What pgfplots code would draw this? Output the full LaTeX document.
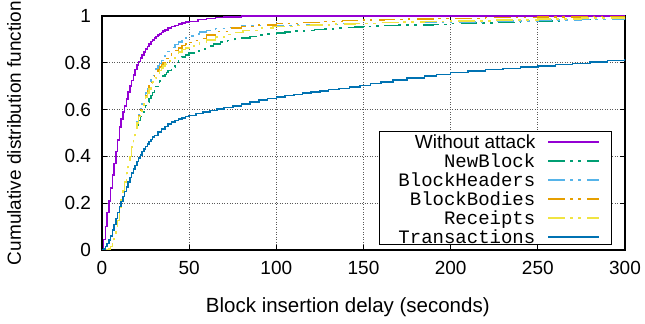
\documentclass[border=0pt]{standalone}
\usepackage{fontspec}
\setmainfont{Liberation Sans}
\setmonofont{Liberation Mono}
\usepackage{pgfplots}
\pgfplotsset{compat=1.18}
\definecolor{cA}{HTML}{9400D3}
\definecolor{cB}{HTML}{009E73}
\definecolor{cC}{HTML}{56B4E9}
\definecolor{cD}{HTML}{E69F00}
\definecolor{cE}{HTML}{F0E442}
\definecolor{cF}{HTML}{0072B2}
\newcommand{\fs}{\fontsize{19bp}{22bp}\selectfont}
\tikzset{ddot/.style={dash pattern=on 17bp off 5bp on 2.5bp off 5.5bp on 2.5bp off 6.5bp}}
\begin{document}
\begin{tikzpicture}
\begin{axis}[name=ax,
  scale only axis, width=523bp, height=234bp,
  xmin=0, xmax=300, ymin=0, ymax=1,
  xtick={0,50,100,150,200,250,300},
  ytick={0,0.2,0.4,0.6,0.8,1},
  /pgf/number format/assume math mode=true,
  tick label style={font=\fs},
  xticklabel style={yshift=-8bp},
  yticklabel style={xshift=-7.5bp},
  tick align=inside, major tick length=5bp,
  tick style={black, line width=0.8bp},
  axis line style={black, line width=1.1bp},
  grid=major,
  major grid style={black!65, line width=0.8bp, dash pattern=on 0.9bp off 1.6bp},
  xlabel={Block insertion delay (seconds)},
  ylabel={Cumulative distribution function},
  xlabel style={font=\fontsize{20.5bp}{23bp}\selectfont, at={(axis description cs:0.47,-0.265)}, anchor=base},
  ylabel style={font=\fs, at={(axis description cs:-0.1549,0.5)}, anchor=base},
  every axis plot/.append style={line width=1.5bp, const plot, line cap=butt},
  legend plot pos=right,
  legend cell align=right,
  legend image code/.code={\draw[#1] (0bp,0bp) -- (51bp,0bp);},
  legend style={draw=none, fill=none, at={(axis description cs:0.9522,0.503)}, anchor=north east,
    inner sep=0pt, column sep=12bp, row sep=0pt,
    nodes={inner sep=0pt, text height=16bp, text depth=3bp, font=\fs}},
]
\addplot[cA] coordinates {(0,0)(1,0.045)(2,0.10)(3,0.16)(4,0.21)(5,0.265)(6,0.32)(7,0.37)(8,0.42)(9,0.47)(10,0.525)(11,0.56)(12,0.59)(13,0.615)(14,0.645)(15,0.675)(16,0.70)(17,0.724)(18,0.748)(19,0.772)(20,0.79)(21,0.805)(22,0.82)(23,0.834)(24,0.847)(25,0.859)(26,0.87)(27,0.88)(28,0.89)(29,0.898)(30,0.905)(31,0.912)(32,0.918)(33,0.924)(34,0.93)(35,0.935)(36,0.94)(38,0.948)(40,0.955)(42,0.96)(44,0.965)(46,0.97)(48,0.974)(50,0.977)(55,0.984)(60,0.99)(65,0.993)(70,0.996)(80,0.999)(100,1)(300,1)};
\addlegendentry{Without attack}
\addplot[cB, ddot] coordinates {(0,0)(3,0)(4,0.005)(5,0.015)(6,0.03)(7,0.048)(8,0.08)(9,0.125)(10,0.175)(11,0.215)(12,0.255)(13,0.29)(14,0.328)(15,0.365)(16,0.40)(17,0.44)(18,0.478)(19,0.513)(20,0.535)(21,0.553)(22,0.57)(23,0.587)(24,0.603)(25,0.618)(26,0.633)(27,0.647)(28,0.66)(29,0.673)(30,0.686)(31,0.699)(32,0.711)(33,0.723)(34,0.733)(35,0.743)(36,0.751)(37,0.759)(38,0.767)(40,0.783)(42,0.798)(44,0.812)(46,0.824)(48,0.834)(50,0.842)(53,0.851)(56,0.86)(60,0.871)(64,0.88)(68,0.888)(72,0.895)(76,0.901)(80,0.906)(85,0.912)(90,0.918)(95,0.923)(100,0.927)(105,0.931)(110,0.935)(116,0.939)(122,0.942)(128,0.945)(134,0.948)(139,0.95)(145,0.953)(150,0.955)(155,0.957)(161,0.96)(170,0.961)(180,0.962)(190,0.964)(200,0.967)(214,0.97)(227,0.973)(240,0.976)(250,0.978)(262,0.981)(275,0.984)(287,0.986)(300,0.987)};
\addlegendentry{\texttt{NewBlock}}
\addplot[cC, ddot] coordinates {(0,0)(3,0)(4,0.005)(5,0.015)(6,0.03)(7,0.048)(8,0.08)(9,0.125)(10,0.175)(11,0.215)(12,0.255)(13,0.29)(14,0.328)(15,0.365)(16,0.40)(17,0.44)(18,0.478)(19,0.513)(20,0.547)(21,0.577)(22,0.602)(23,0.625)(24,0.648)(25,0.67)(26,0.69)(27,0.71)(28,0.728)(29,0.745)(30,0.76)(31,0.773)(32,0.786)(33,0.798)(34,0.809)(35,0.82)(36,0.83)(37,0.84)(38,0.849)(40,0.865)(42,0.878)(44,0.889)(46,0.899)(48,0.907)(50,0.914)(53,0.923)(56,0.931)(60,0.939)(65,0.946)(70,0.951)(80,0.957)(90,0.96)(110,0.963)(135,0.968)(160,0.972)(190,0.975)(220,0.978)(250,0.982)(275,0.986)(300,0.99)};
\addlegendentry{\texttt{BlockHeaders}}
\addplot[cD, ddot] coordinates {(0,0)(3,0)(4,0.005)(5,0.015)(6,0.03)(7,0.048)(8,0.08)(9,0.125)(10,0.175)(11,0.215)(12,0.255)(13,0.29)(14,0.328)(15,0.365)(16,0.40)(17,0.44)(18,0.478)(19,0.513)(20,0.545)(21,0.574)(22,0.598)(23,0.62)(24,0.64)(25,0.66)(26,0.68)(27,0.70)(28,0.716)(29,0.731)(30,0.745)(31,0.758)(32,0.77)(33,0.781)(34,0.792)(35,0.802)(36,0.811)(37,0.819)(38,0.827)(40,0.841)(42,0.853)(44,0.864)(46,0.874)(48,0.881)(50,0.887)(53,0.895)(56,0.903)(60,0.918)(65,0.933)(72,0.949)(80,0.956)(90,0.962)(100,0.967)(114,0.973)(126,0.977)(138,0.98)(150,0.983)(162,0.986)(176,0.988)(190,0.99)(220,0.993)(250,0.995)(275,0.997)(300,0.998)};
\addlegendentry{\texttt{BlockBodies}}
\addplot[cE, ddot] coordinates {(0,0)(3,0)(4,0.005)(5,0.015)(6,0.03)(7,0.048)(8,0.08)(9,0.125)(10,0.175)(11,0.215)(12,0.255)(13,0.29)(14,0.328)(15,0.365)(16,0.40)(17,0.44)(18,0.478)(19,0.513)(20,0.543)(21,0.57)(22,0.593)(23,0.614)(24,0.634)(25,0.653)(26,0.672)(27,0.688)(28,0.703)(29,0.718)(30,0.732)(31,0.745)(32,0.757)(33,0.768)(34,0.778)(35,0.787)(36,0.795)(37,0.802)(38,0.808)(40,0.821)(42,0.834)(44,0.846)(46,0.856)(48,0.864)(50,0.871)(53,0.88)(56,0.889)(60,0.898)(65,0.91)(70,0.921)(75,0.93)(81,0.939)(90,0.949)(98,0.956)(110,0.96)(120,0.962)(132,0.966)(145,0.969)(158,0.972)(170,0.974)(185,0.976)(200,0.978)(225,0.982)(250,0.987)(275,0.991)(300,0.995)};
\addlegendentry{\texttt{Receipts}}
\addplot[cF] coordinates {(0,0)(1,0.005)(2,0.015)(3,0.028)(4,0.042)(5,0.06)(6,0.085)(7,0.11)(8,0.135)(9,0.16)(10,0.185)(11,0.207)(12,0.228)(13,0.25)(14,0.27)(15,0.29)(16,0.31)(17,0.329)(18,0.346)(19,0.362)(20,0.378)(21,0.393)(22,0.407)(23,0.42)(24,0.432)(25,0.443)(26,0.454)(27,0.464)(28,0.473)(29,0.482)(30,0.49)(32,0.504)(34,0.517)(36,0.528)(38,0.538)(40,0.546)(42,0.553)(44,0.559)(46,0.565)(48,0.57)(50,0.575)(54,0.583)(58,0.59)(62,0.596)(66,0.602)(70,0.608)(75,0.616)(80,0.624)(85,0.632)(90,0.64)(95,0.647)(100,0.654)(105,0.66)(110,0.665)(115,0.67)(120,0.675)(125,0.68)(130,0.685)(136,0.69)(142,0.697)(148,0.704)(154,0.711)(160,0.718)(167,0.727)(175,0.735)(185,0.744)(192,0.751)(200,0.758)(210,0.765)(220,0.771)(230,0.776)(240,0.781)(250,0.787)(260,0.792)(270,0.798)(280,0.803)(290,0.809)(300,0.815)};
\addlegendentry{\texttt{Transactions}}
\draw[black, line width=1bp, fill=white] (axis description cs:0.5315,0.0214) rectangle (axis description cs:0.9751,0.5043);
\end{axis}
\pgfresetboundingbox
\path ([xshift=-102bp,yshift=-74bp]ax.south west) rectangle ([xshift=20bp,yshift=16bp]ax.north east);
\end{tikzpicture}
\end{document}
